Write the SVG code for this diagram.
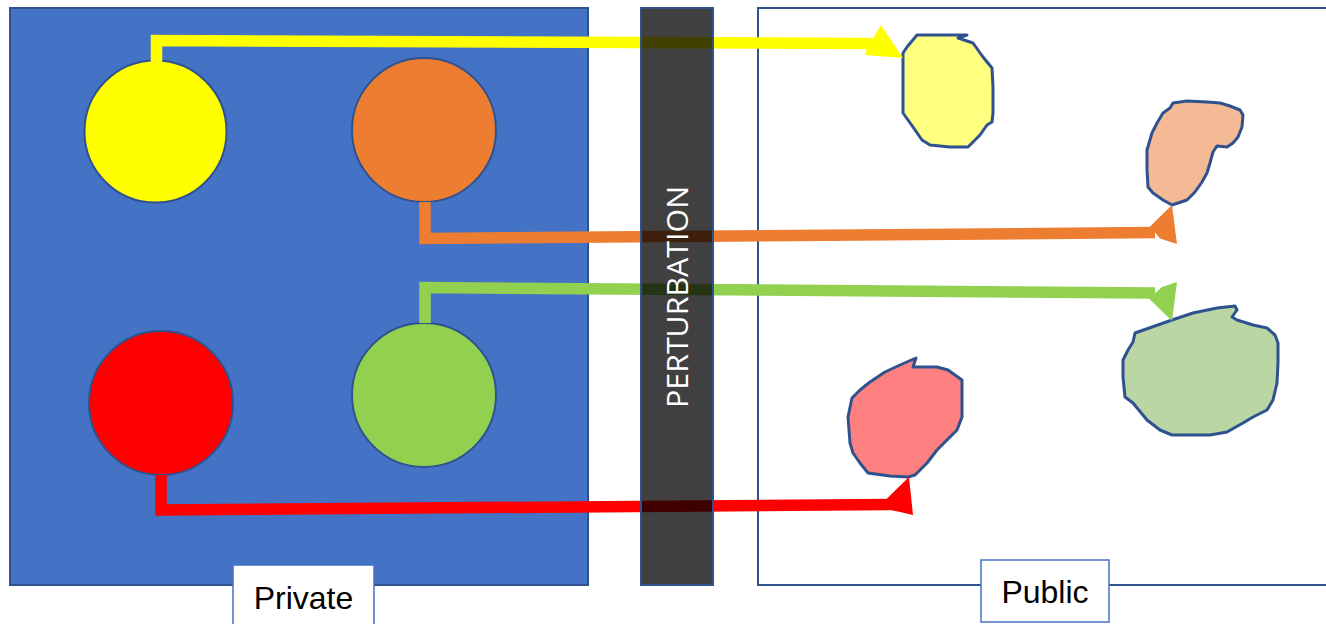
<svg xmlns="http://www.w3.org/2000/svg" width="1326" height="624" viewBox="0 0 1326 624">
  <style>
    .panel { stroke: #2F528F; stroke-width: 2; }
    .dot { stroke: #2F528F; stroke-width: 2; }
    .blob { stroke: #2F528F; stroke-width: 3; stroke-linejoin: round; }
    .link { fill: none; stroke-width: 11.5; stroke-linejoin: miter; }
    .label { font-family: "Liberation Sans", Arial, sans-serif; font-size: 32px; fill: #000; text-anchor: middle; }
    .tag { fill: #fff; stroke: #4472C4; stroke-width: 1.5; }
  </style>
  <rect width="1326" height="624" fill="#fff"/>

  <!-- private side -->
  <g id="private-panel">
    <rect class="panel" x="10" y="8" width="578" height="577" fill="#4472C4"/>
  </g>

  <!-- public side -->
  <g id="public-panel">
    <rect class="panel" x="758" y="8" width="580" height="577" fill="#fff"/>
  </g>

  <!-- source records -->
  <g id="node-yellow"><circle class="dot" cx="155.5" cy="131.5" r="71" fill="#FFFF00"/></g>
  <g id="node-orange"><circle class="dot" cx="424" cy="130" r="72" fill="#ED7D31"/></g>
  <g id="node-red"><circle class="dot" cx="161" cy="403" r="72" fill="#FF0000"/></g>
  <g id="node-green"><circle class="dot" cx="424" cy="395" r="72" fill="#92D050"/></g>

  <!-- released (perturbed) records -->
  <g id="blob-yellow">
    <path class="blob" fill="#FFFF80" d="M917,35 L957,35 L967,35 L958,38 L973,43 L983,57 L992,68 L993,87 L993,113 L992,122 L987,125 L980,135 L968,147 L950,147 L930,145 L922,140 L913,127 L908,120 L903,113 L903,87 L903,53 L907,47 Z"/>
  </g>
  <g id="blob-orange">
    <path class="blob" fill="#F4B995" d="M1173,103 L1187,101 L1207,102 L1220,103 L1230,106 L1240,110 L1243,115 L1242,127 L1238,137 L1233,143 L1227,147 L1217,146 L1213,152 L1210,163 L1207,173 L1202,182 L1195,192 L1187,200 L1172,205 L1163,200 L1153,193 L1148,187 L1147,170 L1147,150 L1152,133 L1157,123 L1163,113 L1170,108 Z"/>
  </g>
  <g id="blob-green">
    <path class="blob" fill="#B9D6A4" d="M1172,320 L1193,313 L1217,308 L1235,306 L1237,310 L1232,317 L1237,320 L1253,325 L1267,328 L1275,335 L1278,343 L1278,363 L1277,383 L1273,400 L1267,410 L1253,417 L1243,423 L1227,432 L1210,435 L1190,435 L1172,435 L1160,430 L1147,420 L1133,403 L1125,397 L1123,377 L1123,360 L1128,350 L1133,342 L1135,333 Z"/>
  </g>
  <g id="blob-red">
    <path class="blob" fill="#FF8080" d="M916,358 L913,367 L937,367 L948,370 L955,375 L962,380 L962,400 L962,417 L957,430 L947,440 L937,450 L927,463 L915,475 L908,477 L890,476 L868,473 L860,463 L853,453 L850,443 L848,417 L852,398 L860,390 L870,382 L885,372 L900,365 Z"/>
  </g>

  <!-- connectors -->
  <g id="connectors">
    <path class="link" stroke="#FFFF00" d="M156.5,62 V40.5 L872,43.5"/>
    <polygon fill="#FFFF00" points="873,38 881,25 903,58 865,55 867,48"/>

    <path class="link" stroke="#ED7D31" d="M425,202 V238.5 L1155,232.5"/>
    <polygon fill="#ED7D31" points="1150,226.5 1172,205 1177,244 1160,238.5"/>

    <path class="link" stroke="#92D050" d="M425,323 V287.5 L1155,293"/>
    <polygon fill="#92D050" points="1162,287 1177,282 1172,321 1149,298.5"/>

    <path class="link" stroke="#FF0000" d="M161,475 V510 L890,504.5"/>
    <polygon fill="#FF0000" points="886,499.5 909,477 913,515 898,511.5 890,510"/>
  </g>

  <!-- perturbation barrier -->
  <g id="perturbation">
    <rect x="641" y="8" width="72" height="577" fill="#000" fill-opacity="0.75"/>
    <rect x="641" y="8" width="72" height="577" fill="none" stroke="#2F528F" stroke-width="2"/>
    <text transform="translate(688,297) rotate(-90)" x="0" y="0" font-family="'Open Sans', 'Liberation Sans', sans-serif" font-size="29" fill="#fff" text-anchor="middle" textLength="222" lengthAdjust="spacingAndGlyphs">PERTURBATION</text>
  </g>

  <!-- side labels -->
  <g id="label-private">
    <rect class="tag" x="233" y="565" width="141" height="70"/>
    <text class="label" x="303.5" y="609">Private</text>
  </g>
  <g id="label-public">
    <rect class="tag" x="981" y="560" width="128" height="62" stroke-width="2"/>
    <text class="label" x="1045" y="603">Public</text>
  </g>
</svg>
